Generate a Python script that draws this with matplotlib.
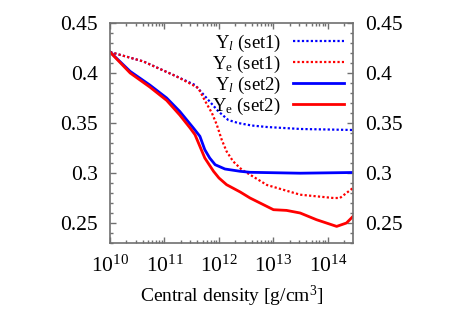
import numpy as np
import matplotlib
matplotlib.use("Agg")
import matplotlib.pyplot as plt
from matplotlib.ticker import LogLocator, MultipleLocator, NullFormatter

plt.rcParams['font.family'] = ['Liberation Serif', 'DejaVu Serif']
plt.rcParams['mathtext.fontset'] = 'custom'
plt.rcParams['mathtext.rm'] = 'Liberation Serif'
plt.rcParams['mathtext.it'] = 'Liberation Serif:italic'

# log10 of central density
lg_yl1 = [10.0, 10.61, 11.22, 11.56, 11.8, 11.99, 12.17, 12.35, 12.6, 12.88, 13.5, 14.0, 14.46]
yl1 = [0.421, 0.4116, 0.3966, 0.388, 0.3733, 0.3616, 0.353, 0.35, 0.3475, 0.346, 0.344, 0.3435, 0.343]

lg_ye1 = [10.0, 10.61, 11.22, 11.45, 11.62, 11.75, 11.87, 11.96, 12.05, 12.14, 12.26,
          12.42, 12.57, 12.88, 13.49, 14.1, 14.22, 14.46]
ye1 = [0.421, 0.4116, 0.3966, 0.39, 0.385, 0.3716, 0.36, 0.3483, 0.3333, 0.3216, 0.3116,
       0.3033, 0.2983, 0.288, 0.2783, 0.275, 0.275, 0.285]

lg_yl2 = [10.0, 10.37, 10.73, 11.04, 11.28, 11.53, 11.65, 11.74, 11.83, 11.93, 12.11,
          12.39, 12.57, 13.49, 14.46]
yl2 = [0.421, 0.4016, 0.388, 0.375, 0.3616, 0.345, 0.3367, 0.3233, 0.3150, 0.3083, 0.304,
       0.3017, 0.3007, 0.2998, 0.3005]

lg_ye2 = [10.0, 10.37, 10.73, 11.04, 11.28, 11.47, 11.56, 11.74, 11.9, 12.0, 12.14,
          12.39, 12.57, 13.0, 13.24, 13.49, 13.79, 14.16, 14.34, 14.46]
ye2 = [0.421, 0.4, 0.386, 0.3726, 0.358, 0.345, 0.3383, 0.315, 0.3017, 0.295, 0.2883,
       0.281, 0.275, 0.2633, 0.2626, 0.26, 0.2533, 0.2466, 0.25, 0.2566]

fig = plt.figure(figsize=(4.63, 3.24), dpi=100)
ax = fig.add_axes([110 / 463, 1 - 243 / 324, 243 / 463, 220 / 324])

ax.plot(10 ** np.array(lg_yl1), yl1, color='#0000ff', lw=1.6, ls=(0, (1, 1)), label=r'Y$_{\mathit{l}}$ (set1)')
ax.plot(10 ** np.array(lg_ye1), ye1, color='#ff0000', lw=1.6, ls=(0, (1, 1)), label=r'Y$_{\mathrm{e}}$ (set1)')
ax.plot(10 ** np.array(lg_yl2), yl2, color='#0000ff', lw=2.0, label=r'Y$_{\mathit{l}}$ (set2)')
ax.plot(10 ** np.array(lg_ye2), ye2, color='#ff0000', lw=2.0, label=r'Y$_{\mathrm{e}}$ (set2)')

ax.set_xscale('log')
ax.set_xlim(1e10, 10 ** 14.46)
ax.set_ylim(0.23, 0.45)
ax.xaxis.set_major_locator(LogLocator(base=10, numticks=10))
ax.xaxis.set_minor_locator(LogLocator(base=10, subs=np.arange(2, 10), numticks=20))
ax.xaxis.set_minor_formatter(NullFormatter())
ax.yaxis.set_minor_locator(MultipleLocator(0.01))
ax.set_yticks([0.25, 0.3, 0.35, 0.4, 0.45])
ax.set_yticklabels(['0.25', '0.3', '0.35', '0.4', '0.45'])

for s in ax.spines.values():
    s.set_color('#707070')
    s.set_linewidth(1.2)
ax.tick_params(which='both', direction='in', top=True, right=True, labelright=True,
               color='#707070', labelsize=15.5)
ax.tick_params(axis='y', which='both', pad=9)
ax.tick_params(axis='x', which='both', pad=9)
ax.tick_params(which='major', length=4, width=1)
ax.tick_params(which='minor', length=2, width=1)

ax.set_xlabel(r'Central density [g/cm$^3$]', fontsize=14, labelpad=5)

ax.legend(loc='upper right', frameon=False, markerfirst=False, fontsize=13.5,
          handlelength=2.7, labelspacing=0.0, handletextpad=0.65,
          borderaxespad=0.3, borderpad=0.2)

fig.savefig('out.png', dpi=100)
